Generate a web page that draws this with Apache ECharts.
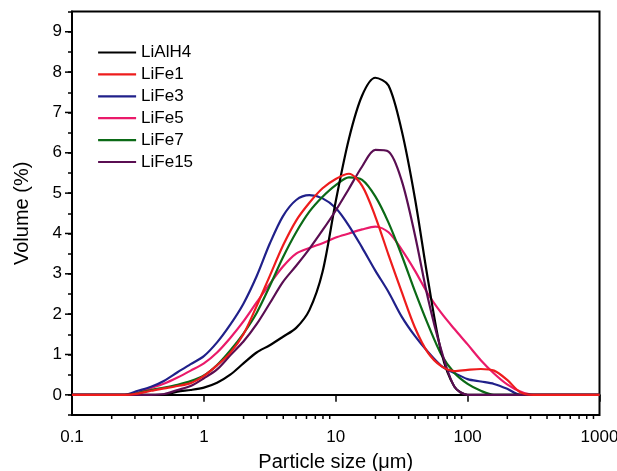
<!DOCTYPE html>
<html><head><meta charset="utf-8">
<script src="https://cdn.jsdelivr.net/npm/echarts@6/dist/echarts.min.js"></script>
<style>html,body{margin:0;padding:0;background:#fff}#c{width:617px;height:471px}</style>
</head><body><div id="c"></div>
<script>
// particle size bins (µm), log-spaced
const sizes = [0.1, 0.126, 0.158, 0.2, 0.251, 0.316, 0.398, 0.501, 0.631, 0.794,
  1, 1.259, 1.585, 1.995, 2.512, 3.162, 3.981, 5.012, 6.31, 7.943,
  10, 12.59, 15.85, 19.95, 25.12, 31.62, 39.81, 50.12, 63.1, 79.43,
  100, 125.9, 158.5, 199.5, 251.2, 316.2, 398.1, 501.2, 631, 794.3, 1000];

const LiAlH4 = [0, 0, 0, 0, 0, 0, 0, 0, 0.08, 0.12,
  0.18, 0.3, 0.5, 0.78, 1.05, 1.23, 1.44, 1.66, 2.1, 3.05,
  4.8, 6.35, 7.42, 7.86, 7.67, 6.55, 4.88, 2.84, 1.06, 0.2,
  0, 0, 0, 0, 0, 0, 0, 0, 0, 0, 0];
const LiFe1 = [0, 0, 0, 0, 0, 0.03, 0.1, 0.16, 0.22, 0.29,
  0.47, 0.73, 1.04, 1.5, 2.2, 2.95, 3.7, 4.32, 4.76, 5.12,
  5.35, 5.48, 5.18, 4.42, 3.47, 2.55, 1.67, 1.04, 0.71, 0.59,
  0.62, 0.64, 0.6, 0.37, 0.06, 0, 0, 0, 0, 0, 0];
const LiFe3 = [0, 0, 0, 0, 0, 0.1, 0.2, 0.35, 0.56, 0.76,
  0.96, 1.3, 1.74, 2.26, 2.94, 3.75, 4.43, 4.83, 4.95, 4.87,
  4.63, 4.19, 3.65, 3.08, 2.55, 1.94, 1.46, 1.06, 0.72, 0.54,
  0.39, 0.33, 0.27, 0.15, 0, 0, 0, 0, 0, 0, 0];
const LiFe5 = [0, 0, 0, 0, 0, 0.05, 0.17, 0.28, 0.43, 0.6,
  0.78, 1.05, 1.41, 1.82, 2.29, 2.75, 3.18, 3.5, 3.64, 3.76,
  3.9, 4.0, 4.1, 4.17, 4.03, 3.6, 3.08, 2.5, 2.03, 1.63,
  1.25, 0.86, 0.53, 0.26, 0.08, 0, 0, 0, 0, 0, 0];
const LiFe7 = [0, 0, 0, 0, 0, 0.04, 0.12, 0.18, 0.25, 0.34,
  0.48, 0.74, 1.1, 1.52, 2.03, 2.7, 3.41, 4.03, 4.54, 4.91,
  5.2, 5.39, 5.33, 4.92, 4.27, 3.46, 2.57, 1.74, 1.0, 0.54,
  0.27, 0.1, 0, 0, 0, 0, 0, 0, 0, 0, 0];
const LiFe15 = [0, 0, 0, 0, 0, 0, 0, 0.02, 0.12, 0.22,
  0.41, 0.63, 0.98, 1.32, 1.75, 2.27, 2.8, 3.2, 3.62, 4.08,
  4.57, 5.11, 5.66, 6.07, 6.03, 5.31, 3.97, 2.38, 1.11, 0.2,
  0, 0, 0, 0, 0, 0, 0, 0, 0, 0, 0];

const seriesNames = ['LiAlH4', 'LiFe1', 'LiFe3', 'LiFe5', 'LiFe7', 'LiFe15'];
const seriesValues = [LiAlH4, LiFe1, LiFe3, LiFe5, LiFe7, LiFe15];
const seriesColors = ['#000000', '#ee1c1c', '#20208a', '#ea1a6a', '#0b6a16', '#5a0e52'];
const seriesZ = [4, 6, 3, 2, 3, 4];

const xTickLabels = ['0.1', '1', '10', '100', '1000'];
const xMinorTicks = [0.2, 0.3, 0.4, 0.5, 0.6, 0.7, 0.8, 0.9,
  2, 3, 4, 5, 6, 7, 8, 9, 20, 30, 40, 50, 60, 70, 80, 90,
  200, 300, 400, 500, 600, 700, 800, 900];
const yMajorTicks = [0, 1, 2, 3, 4, 5, 6, 7, 8, 9];
const yMin = -0.5, yMax = 9.5;

const font = 'Arial, "Liberation Sans", Helvetica, sans-serif';
const chart = echarts.init(document.getElementById('c'), null, {renderer: 'canvas'});

const lineSeries = seriesNames.map((n, i) => ({
  name: n, type: 'line', symbol: 'none', smooth: 0.3,
  z: seriesZ[i],
  data: sizes.map((s, j) => [s, seriesValues[i][j]]),
  lineStyle: {color: seriesColors[i], width: 2.2},
  itemStyle: {color: seriesColors[i]}
}));

const tickSeriesX = {
  type: 'custom', silent: true, clip: false, z: 10,
  data: xMinorTicks.map(v => [v, yMin]),
  renderItem: (params, api) => {
    const p = api.coord([api.value(0), api.value(1)]);
    return {type: 'line', shape: {x1: p[0], y1: p[1], x2: p[0], y2: p[1] + 4},
      style: {stroke: '#000', lineWidth: 1.5}};
  }
};
const tickSeriesY = {
  type: 'custom', silent: true, clip: false, z: 10,
  data: yMajorTicks.map(v => [0.1, v]),
  renderItem: (params, api) => {
    const p = api.coord([api.value(0), api.value(1)]);
    return {type: 'line', shape: {x1: p[0], y1: p[1], x2: p[0] - 7, y2: p[1]},
      style: {stroke: '#000', lineWidth: 1.5}};
  }
};

chart.setOption({
  animation: false,
  backgroundColor: '#fff',
  textStyle: {fontFamily: font},
  grid: {left: 72, right: 17.5, top: 11.6, bottom: 56, show: true,
    borderColor: '#000', borderWidth: 2, outerBoundsMode: 'none', containLabel: false},
  legend: {
    data: seriesNames, orient: 'vertical', left: 97, top: 44,
    itemWidth: 38, itemHeight: 14, itemGap: 4.9, padding: 0,
    itemStyle: {opacity: 0},
    lineStyle: {width: 2.2},
    textStyle: {fontSize: 17, color: '#000', fontFamily: font}
  },
  xAxis: {
    type: 'log', logBase: 10, min: 0.1, max: 1000,
    name: 'Particle size (μm)', nameLocation: 'middle', nameGap: 37,
    nameTextStyle: {fontSize: 20, color: '#000', fontFamily: font},
    axisLine: {lineStyle: {color: '#000', width: 2}},
    axisTick: {show: true, length: 7, lineStyle: {color: '#000', width: 1.5}},
    minorTick: {show: false},
    splitLine: {show: false},
    axisLabel: {fontSize: 17, color: '#000', margin: 14, fontFamily: font,
      formatter: (v, i) => xTickLabels[i]}
  },
  yAxis: {
    type: 'value', min: yMin, max: yMax, interval: 0.5,
    name: 'Volume (%)', nameLocation: 'middle', nameGap: 40,
    nameTextStyle: {fontSize: 20, color: '#000', fontFamily: font},
    axisLine: {show: true, lineStyle: {color: '#000', width: 2}},
    axisTick: {show: true, length: 4, lineStyle: {color: '#000', width: 1.5}},
    splitLine: {show: false},
    axisLabel: {fontSize: 17, color: '#000', margin: 10, fontFamily: font,
      formatter: v => (Math.abs(v - Math.round(v)) < 1e-6 && v >= 0) ? String(Math.round(v)) : ''}
  },
  series: lineSeries.concat([tickSeriesX, tickSeriesY])
});
</script>
</body></html>
